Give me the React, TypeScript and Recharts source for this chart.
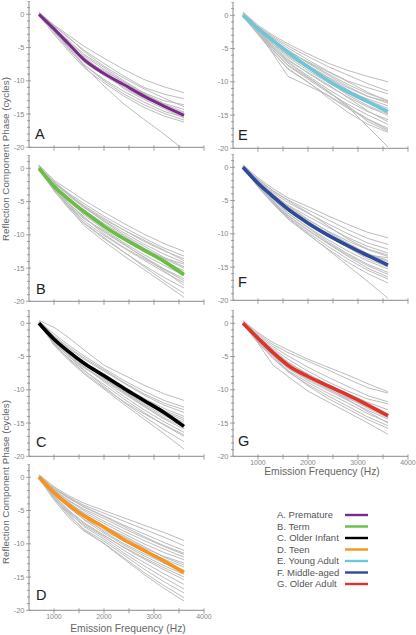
import React from "react";
import { LineChart, Line, XAxis, YAxis } from "recharts";

// ---------- data ----------
const FREQ_HZ = [700, 1000, 1300, 1600, 2000, 2400, 2800, 3200, 3600];

const MEAN_A = [0, -2.2, -4.5, -6.8, -8.9, -10.6, -12.3, -13.8, -15.2];
const MEAN_B = [0, -2.7, -4.7, -6.5, -8.7, -10.6, -12.3, -14.0, -16.0];
const MEAN_C = [0, -2.4, -4.3, -6.0, -7.9, -9.8, -11.6, -13.4, -15.5];
const MEAN_D = [0, -2.3, -4.2, -5.8, -7.5, -9.4, -11.0, -12.6, -14.3];
const MEAN_E = [0, -2.0, -3.8, -5.6, -7.75, -9.8, -11.5, -13.0, -14.5];
const MEAN_F = [0, -2.4, -4.4, -6.3, -8.4, -10.2, -11.8, -13.3, -14.7];
const MEAN_G = [0, -2.25, -4.4, -6.3, -8.0, -9.4, -10.8, -12.3, -13.9];

const GRAY_A = [
  [0.3, -1.6, -3.2, -4.8, -6.6, -8.3, -9.8, -10.9, -11.8],
  [0.2, -1.8, -3.6, -5.4, -7.4, -9.3, -11.0, -12.0, -12.7],
  [0, -2.0, -4.0, -6.0, -8.0, -10.0, -11.8, -13.0, -13.6],
  [0.1, -2.4, -4.6, -6.8, -8.5, -10.2, -11.9, -13.4, -14.3],
  [-0.1, -2.6, -5.0, -7.2, -9.2, -11.0, -12.6, -13.9, -14.8],
  [0, -2.2, -4.4, -6.6, -8.8, -10.6, -12.3, -14.0, -15.2],
  [0.2, -2.8, -5.3, -7.6, -9.8, -11.6, -13.2, -14.6, -15.5],
  [0, -2.5, -5.0, -7.6, -10.0, -12.0, -13.6, -14.9, -15.9],
  [-0.2, -3.0, -5.6, -8.0, -10.3, -12.3, -14.0, -15.3, -16.2],
  [0, -2.5, -5.2, -7.8, -10.8, -13.5, -15.8, -18.0, -20.4],
  [0.1, -1.7, -3.5, -5.6, -7.8, -9.6, -11.2, -12.6, -13.9],
  [0, -2.1, -4.2, -6.2, -8.3, -10.2, -12.0, -13.5, -14.7],
  [0.2, -2.3, -4.8, -6.4, -8.8, -11.2, -12.8, -14.2, -15.6],
];

const GRAY_B = [
  [0.5, -1.8, -3.3, -4.8, -6.6, -8.3, -9.9, -11.3, -12.5],
  [0.3, -2.0, -3.8, -5.3, -7.2, -8.9, -10.5, -12.0, -13.2],
  [0.2, -2.3, -4.0, -5.6, -7.5, -9.3, -11.0, -12.4, -13.6],
  [0, -2.1, -4.2, -5.9, -7.9, -9.7, -11.4, -12.9, -14.2],
  [0.4, -2.6, -4.6, -6.3, -8.3, -10.2, -12.0, -13.6, -15.0],
  [0.1, -2.4, -4.5, -6.6, -8.8, -10.8, -12.5, -14.0, -15.4],
  [0, -2.8, -5.0, -7.0, -9.2, -11.2, -13.0, -14.6, -16.1],
  [0.2, -3.0, -5.4, -7.4, -9.6, -11.5, -13.3, -15.1, -16.6],
  [0, -3.2, -5.7, -7.9, -10.1, -12.0, -13.8, -15.6, -17.2],
  [-0.1, -3.4, -6.1, -8.3, -10.6, -12.6, -14.6, -16.4, -18.0],
  [0, -3.1, -6.0, -8.6, -11.0, -13.2, -15.2, -17.3, -19.4],
  [0.3, -2.2, -4.0, -5.8, -8.0, -10.0, -11.7, -13.4, -14.8],
  [0.1, -2.5, -4.8, -6.8, -8.6, -10.4, -12.1, -13.8, -15.7],
  [0, -2.9, -5.3, -7.3, -9.9, -11.9, -13.6, -15.2, -16.9],
  [0.2, -2.0, -3.9, -5.8, -7.7, -9.3, -10.8, -12.3, -13.9],
  [0, -3.3, -5.6, -7.6, -9.4, -11.4, -13.4, -15.4, -17.6],
  [0.4, -2.7, -4.7, -6.4, -8.6, -10.6, -12.2, -13.5, -14.4],
  [0, -3.0, -5.8, -8.2, -10.4, -12.6, -14.8, -16.9, -18.8],
];

const GRAY_C = [
  [0.4, -0.6, -2.2, -4.0, -6.3, -7.8, -9.3, -10.6, -11.6],
  [0.3, -1.6, -3.3, -4.9, -6.8, -8.6, -10.2, -11.6, -12.6],
  [0.2, -2.0, -3.8, -5.4, -7.2, -9.0, -10.8, -12.3, -13.4],
  [0, -2.4, -4.2, -5.8, -7.6, -9.5, -11.3, -12.8, -14.0],
  [0.1, -2.7, -4.6, -6.2, -8.0, -9.9, -11.7, -13.3, -14.6],
  [0, -2.2, -4.1, -5.9, -8.2, -10.3, -12.2, -13.9, -15.2],
  [0.2, -3.0, -5.0, -6.7, -8.6, -10.6, -12.5, -14.4, -15.9],
  [0, -2.6, -4.6, -6.5, -8.8, -11.0, -13.0, -14.8, -16.4],
  [-0.1, -3.2, -5.3, -7.1, -9.2, -11.4, -13.4, -15.3, -17.0],
  [0, -2.9, -5.0, -7.0, -9.5, -11.9, -14.0, -16.0, -17.8],
  [0.1, -3.3, -5.6, -7.6, -9.9, -12.2, -14.4, -16.6, -18.9],
  [0.3, -1.9, -3.6, -5.2, -7.0, -8.9, -10.6, -12.0, -13.0],
  [0, -2.5, -4.4, -6.0, -8.0, -9.8, -11.5, -13.1, -14.3],
  [0.2, -2.8, -4.8, -6.6, -8.4, -10.4, -12.4, -14.2, -15.6],
  [0, -3.1, -5.4, -7.4, -9.7, -11.8, -13.6, -15.2, -16.8],
  [0.1, -2.3, -4.3, -6.1, -8.3, -10.2, -12.0, -13.6, -14.9],
];

const GRAY_D = [
  [0.4, -1.4, -2.8, -3.9, -5.0, -6.1, -7.2, -8.3, -9.5],
  [0.3, -1.6, -3.0, -4.2, -5.4, -6.6, -7.8, -9.0, -10.3],
  [0.2, -1.8, -3.2, -4.4, -5.8, -7.2, -8.5, -9.8, -11.0],
  [0, -2.0, -3.5, -4.8, -6.2, -7.7, -9.1, -10.4, -11.6],
  [0.1, -1.9, -3.6, -5.0, -6.6, -8.1, -9.5, -10.8, -12.0],
  [0, -2.2, -3.9, -5.3, -6.9, -8.5, -10.0, -11.3, -12.4],
  [0.2, -2.1, -3.8, -5.5, -7.3, -9.0, -10.6, -11.9, -12.9],
  [0, -2.4, -4.2, -5.8, -7.6, -9.3, -10.9, -12.3, -13.5],
  [0.1, -2.6, -4.6, -6.3, -8.0, -9.6, -11.2, -12.7, -14.0],
  [0, -2.3, -4.4, -6.4, -8.4, -10.2, -11.8, -13.3, -14.6],
  [-0.1, -2.8, -5.0, -6.8, -8.7, -10.6, -12.3, -13.9, -15.4],
  [0, -3.0, -5.4, -7.2, -9.0, -11.0, -12.8, -14.5, -16.1],
  [0.1, -2.7, -5.2, -7.4, -9.3, -11.4, -13.3, -15.1, -16.8],
  [0, -3.2, -5.8, -7.8, -9.6, -11.7, -13.8, -15.7, -17.4],
  [-0.2, -3.4, -6.1, -8.1, -9.9, -12.1, -14.3, -16.3, -18.1],
  [0, -3.1, -5.6, -7.9, -10.0, -12.3, -14.6, -16.7, -18.6],
  [0.2, -1.7, -3.1, -4.5, -5.9, -7.4, -8.9, -10.3, -11.4],
  [0, -2.5, -4.5, -6.0, -7.4, -8.8, -10.4, -12.0, -13.2],
  [0.1, -2.2, -4.0, -5.9, -8.2, -10.0, -11.5, -12.9, -14.2],
  [0, -2.9, -5.1, -7.0, -8.8, -10.5, -12.1, -13.6, -15.0],
];

const GRAY_E = [
  [0.5, -1.5, -3.0, -4.3, -5.8, -7.2, -8.3, -9.2, -10.0],
  [0.4, -1.7, -3.2, -4.6, -6.2, -7.7, -9.0, -10.3, -11.4],
  [0.2, -1.8, -3.4, -4.9, -6.7, -8.4, -9.9, -10.9, -11.8],
  [0, -2.0, -3.7, -5.3, -7.1, -8.8, -10.4, -11.8, -12.8],
  [0.1, -1.9, -3.8, -5.6, -7.5, -9.3, -10.9, -12.2, -13.2],
  [0, -2.2, -4.1, -5.9, -7.9, -9.8, -11.4, -12.6, -13.6],
  [0.2, -2.3, -4.4, -6.3, -8.3, -10.1, -11.8, -13.2, -14.3],
  [0, -2.4, -4.6, -6.6, -8.7, -10.6, -12.3, -13.8, -15.0],
  [-0.1, -2.6, -4.9, -7.0, -9.1, -11.1, -12.9, -14.5, -15.7],
  [0, -2.5, -5.2, -7.6, -9.6, -11.6, -13.4, -15.0, -16.4],
  [0.1, -2.8, -5.6, -8.1, -10.1, -12.1, -14.0, -15.7, -17.2],
  [0, -2.4, -5.8, -9.2, -10.6, -12.0, -13.8, -15.6, -17.0],
  [-0.2, -2.9, -5.6, -8.0, -10.0, -12.4, -14.6, -16.4, -17.6],
  [0, -2.7, -5.3, -7.5, -9.4, -11.4, -13.6, -16.0, -17.4],
  [0.1, -2.6, -5.0, -7.2, -9.3, -11.4, -13.8, -16.8, -19.8],
  [0.3, -1.8, -3.6, -5.2, -7.2, -9.0, -10.7, -12.2, -13.0],
  [0, -2.1, -4.0, -5.6, -7.6, -9.4, -11.2, -12.8, -14.0],
  [0.2, -2.3, -4.3, -6.1, -8.0, -10.0, -12.0, -13.6, -14.8],
  [0, -2.5, -4.8, -6.8, -8.6, -10.4, -12.4, -14.4, -16.0],
  [0.1, -2.0, -3.9, -5.4, -7.0, -8.5, -10.0, -11.6, -12.9],
];

const GRAY_F = [
  [0.4, -1.6, -3.2, -4.6, -5.9, -7.3, -8.6, -9.8, -10.6],
  [0.3, -1.8, -3.5, -4.9, -6.4, -7.9, -9.4, -10.7, -11.6],
  [0.2, -2.0, -3.8, -5.3, -6.9, -8.5, -10.0, -11.4, -12.3],
  [0, -2.2, -4.1, -5.7, -7.4, -9.0, -10.6, -11.9, -12.9],
  [0.1, -2.4, -4.3, -6.0, -7.9, -9.6, -11.1, -12.4, -13.4],
  [0, -2.3, -4.4, -6.3, -8.3, -10.0, -11.6, -13.0, -14.0],
  [0.2, -2.6, -4.7, -6.6, -8.6, -10.4, -12.0, -13.5, -14.6],
  [0, -2.5, -4.8, -6.9, -9.0, -10.9, -12.6, -14.1, -15.3],
  [-0.1, -2.8, -5.1, -7.2, -9.4, -11.4, -13.2, -14.8, -16.1],
  [0, -2.7, -5.2, -7.5, -9.8, -11.9, -13.8, -15.5, -16.8],
  [0.1, -3.0, -5.5, -7.8, -10.1, -12.3, -14.3, -16.0, -17.4],
  [0, -2.9, -5.4, -7.6, -10.0, -12.4, -14.8, -17.2, -19.7],
  [0.3, -1.9, -3.6, -5.0, -6.8, -8.8, -10.8, -12.3, -13.2],
  [0, -2.1, -4.0, -5.8, -7.8, -9.7, -11.4, -13.0, -14.2],
  [0.2, -2.4, -4.5, -6.4, -8.4, -10.3, -12.1, -13.8, -15.0],
  [0, -2.6, -4.9, -6.9, -9.1, -11.2, -13.0, -14.6, -15.8],
  [0.1, -2.2, -4.2, -6.1, -8.1, -10.0, -11.8, -13.2, -13.6],
  [0, -2.8, -5.2, -7.3, -9.5, -11.5, -13.4, -15.2, -16.5],
];

const GRAY_G = [
  [0.4, -1.4, -2.9, -4.0, -5.4, -6.6, -7.8, -9.1, -10.3],
  [0.3, -1.6, -3.2, -4.4, -5.7, -7.0, -8.4, -9.7, -10.5],
  [0.2, -1.8, -3.5, -4.9, -6.6, -8.1, -9.5, -10.9, -11.8],
  [0, -2.0, -3.8, -5.4, -7.2, -8.8, -10.2, -11.4, -12.1],
  [0.1, -2.2, -4.2, -5.9, -7.6, -9.2, -10.6, -11.9, -13.0],
  [0, -2.4, -4.5, -6.4, -8.2, -9.6, -11.0, -12.4, -13.8],
  [0.2, -2.5, -4.8, -6.8, -8.6, -10.1, -11.6, -13.1, -14.4],
  [0, -2.7, -5.0, -7.1, -8.9, -10.5, -12.0, -13.6, -14.9],
  [-0.1, -2.9, -5.3, -7.3, -9.2, -10.9, -12.5, -14.1, -15.4],
  [0, -3.0, -6.3, -8.0, -10.2, -11.8, -13.4, -15.0, -16.7],
  [0.1, -2.3, -4.4, -6.2, -8.0, -9.8, -11.5, -13.3, -15.0],
  [0, -2.6, -4.9, -6.7, -8.4, -9.9, -11.3, -12.6, -14.0],
  [0.2, -2.1, -4.0, -5.8, -7.8, -9.6, -11.2, -12.8, -14.2],
  [0, -2.8, -5.2, -7.2, -9.4, -11.3, -12.9, -14.5, -15.8],
];

const Y_TICKS = [-20, -19, -18, -17, -16, -15, -14, -13, -12, -11, -10, -9, -8, -7, -6, -5, -4, -3, -2, -1, 0, 1, 2];
const X_TICKS = [1000, 1500, 2000, 2500, 3000, 3500, 4000];
const PANEL_LETTERS = ["A", "B", "C", "D", "E", "F", "G"];
const LEGEND_LABELS = [
  "A. Premature",
  "B. Term",
  "C. Older Infant",
  "D. Teen",
  "E. Young Adult",
  "F. Middle-aged",
  "G. Older Adult",
];
const Y_TITLE = "Reflection Component Phase (cycles)";
const X_TITLE = "Emission Frequency (Hz)";

// ---------- styling / layout ----------
const FONT = "'Liberation Sans', Arial, Helvetica, sans-serif";
const SERIES_COLORS = ["#7b2a8c", "#6cbd45", "#000000", "#f5941f", "#6ec6d8", "#2f4a9c", "#e1322b"];
const GRAY = "#bcbcbc";
const AXIS = "#8a8a8a";
const PLOT_W = 175;
const PLOT_H = 146.3;
const Y_AXIS_W = 29;

function buildRows(mean: number[], gray: number[][]) {
  return FREQ_HZ.map((f, i) => {
    const row: Record<string, number> = { f, mean: mean[i] };
    gray.forEach((g, j) => {
      row["g" + j] = g[i];
    });
    return row;
  });
}

const YTick = (props: any) => {
  const { x, y, payload } = props;
  const v = payload.value;
  const major = v % 5 === 0;
  return (
    <g>
      <line x1={major ? x - 3 : x - 2} x2={major ? x + 2 : x + 1} y1={y} y2={y} stroke={AXIS} strokeWidth={0.8} />
      {major && (
        <text x={x - 4.5} y={y + 2.6} textAnchor="end" fontSize={7.5} fill="#888" fontFamily={FONT}>
          {v}
        </text>
      )}
    </g>
  );
};

const makeXTick = (showLabels: boolean) => (props: any) => {
  const { x, y, payload } = props;
  const v = payload.value;
  const major = v % 1000 === 0;
  return (
    <g>
      <line x1={x} x2={x} y1={y - 2} y2={y + (major ? 3.5 : 3)} stroke={AXIS} strokeWidth={0.8} />
      {showLabels && major && (
        <text x={x} y={y + 9} textAnchor="middle" fontSize={7} fill="#888" fontFamily={FONT}>
          {v}
        </text>
      )}
    </g>
  );
};

type PanelProps = {
  left: number;
  top: number;
  mean: number[];
  gray: number[][];
  color: string;
  showLabels: boolean;
  meanWidth: number;
};

function Panel({ left, top, mean, gray, color, showLabels, meanWidth }: PanelProps) {
  const rows = buildRows(mean, gray);
  const xH = 20;
  return (
    <div style={{ position: "absolute", left, top }}>
      <LineChart
        width={Y_AXIS_W + PLOT_W + 11}
        height={PLOT_H + xH}
        data={rows}
        margin={{ top: 0, right: 11, bottom: 0, left: 0 }}
      >
        <XAxis
          dataKey="f"
          type="number"
          domain={[500, 4000]}
          ticks={X_TICKS}
          interval={0}
          allowDataOverflow
          height={xH}
          tickLine={false}
          tickSize={0}
          tickMargin={0}
          stroke={AXIS}
          tick={makeXTick(showLabels)}
        />
        <YAxis
          type="number"
          domain={[-20, 2]}
          ticks={Y_TICKS}
          interval={0}
          allowDataOverflow
          width={Y_AXIS_W}
          tickLine={false}
          tickSize={0}
          tickMargin={0}
          stroke={AXIS}
          tick={YTick}
        />
        {gray.map((_, j) => (
          <Line
            key={j}
            dataKey={"g" + j}
            type="linear"
            stroke={GRAY}
            strokeWidth={1}
            dot={false}
            activeDot={false}
            isAnimationActive={false}
          />
        ))}
        <Line
          dataKey="mean"
          type="monotone"
          stroke={color}
          strokeWidth={meanWidth}
          dot={false}
          activeDot={false}
          isAnimationActive={false}
        />
      </LineChart>
    </div>
  );
}

export default function App() {
  const means = [MEAN_A, MEAN_B, MEAN_C, MEAN_D, MEAN_E, MEAN_F, MEAN_G];
  const grays = [GRAY_A, GRAY_B, GRAY_C, GRAY_D, GRAY_E, GRAY_F, GRAY_G];
  const lefts = [0, 0, 0, 0, 204, 204, 204];
  const tops = [1, 155, 310, 464, 1.5, 154, 310];
  const letterPos = [
    [35, 139],
    [36, 294],
    [36, 447],
    [36, 600],
    [238, 140],
    [238, 287],
    [238, 446],
  ];
  const legendRowY = 515;
  const legendStep = 11.5;

  return (
    <div style={{ position: "absolute", left: 0, top: 0, width: 416, height: 635, background: "#fff", fontFamily: FONT }}>
      {means.map((m, i) => (
        <Panel
          key={i}
          left={lefts[i]}
          top={tops[i]}
          mean={m}
          gray={grays[i]}
          color={SERIES_COLORS[i]}
          showLabels={i === 3 || i === 6}
          meanWidth={i === 0 ? 3 : 3.6}
        />
      ))}
      <svg
        width={416}
        height={635}
        style={{ position: "absolute", left: 0, top: 0, pointerEvents: "none" }}
      >
        {PANEL_LETTERS.map((L, i) => (
          <text key={L} x={letterPos[i][0]} y={letterPos[i][1]} fontSize={14.5} fill="#222" fontFamily={FONT}>
            {L}
          </text>
        ))}
        <text transform="translate(9,159) rotate(-90)" textAnchor="middle" fontSize={9.8} fill="#666" fontFamily={FONT}>
          {Y_TITLE}
        </text>
        <text transform="translate(9,482) rotate(-90)" textAnchor="middle" fontSize={9.8} fill="#666" fontFamily={FONT}>
          {Y_TITLE}
        </text>
        <text x={128} y={632} textAnchor="middle" fontSize={10.3} fill="#666" fontFamily={FONT}>
          {X_TITLE}
        </text>
        <text x={322} y={475} textAnchor="middle" fontSize={10.3} fill="#666" fontFamily={FONT}>
          {X_TITLE}
        </text>
        {LEGEND_LABELS.map((lab, i) => {
          const cy = legendRowY + i * legendStep;
          return (
            <g key={lab}>
              <text x={277} y={cy + 3.3} fontSize={9.5} fill="#555" fontFamily={FONT}>
                {lab}
              </text>
              <line x1={345} x2={368} y1={cy} y2={cy} stroke={SERIES_COLORS[i]} strokeWidth={2.4} />
            </g>
          );
        })}
      </svg>
    </div>
  );
}
